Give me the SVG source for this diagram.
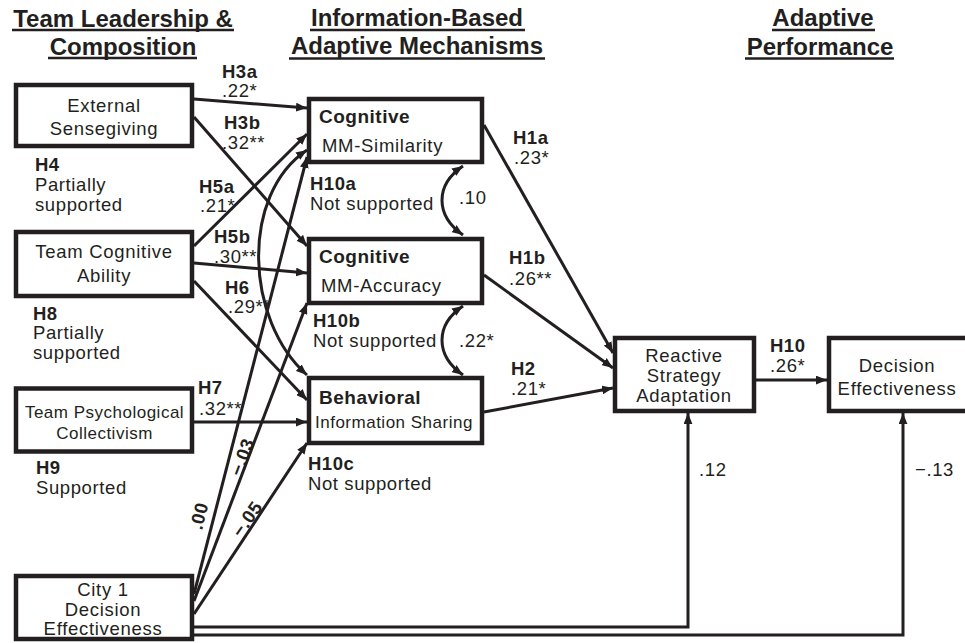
<svg xmlns="http://www.w3.org/2000/svg" width="965" height="643" viewBox="0 0 965 643">
<defs>
<style>
text{font-family:"Liberation Sans",Arial,sans-serif;fill:#231f20}
.hd{font-size:24px;font-weight:bold;text-anchor:middle}
.nt{font-size:18.5px;letter-spacing:0.7px;text-anchor:middle}
.ns{font-size:17px;letter-spacing:0.5px;text-anchor:middle}
.mb{font-size:19px;letter-spacing:0.5px;font-weight:bold}
.mr{font-size:18.5px;letter-spacing:0.7px}
.ms{font-size:17px;letter-spacing:0.5px}
.lb{font-size:18.5px;letter-spacing:0.5px;font-weight:bold}
.lr{font-size:18.5px;letter-spacing:0.6px}
.box{fill:#fff;stroke:#231f20;stroke-width:4.5}
.ul{stroke:#231f20;stroke-width:2.6}
.c{fill:none;stroke:#231f20;stroke-width:3}
.a{marker-end:url(#ah)}
.aa{marker-start:url(#ah);marker-end:url(#ah)}
</style>
<marker id="ah" viewBox="0 0 10 8" refX="10" refY="4" markerWidth="11" markerHeight="9" markerUnits="userSpaceOnUse" orient="auto-start-reverse">
<path d="M0,0 L10,4 L0,8 z" fill="#231f20"/>
</marker>
</defs>

<g id="headers">
<text class="hd" x="123" y="27">Team Leadership &amp;</text>
<line class="ul" x1="12" y1="30" x2="234" y2="30"/>
<text class="hd" x="123" y="55">Composition</text>
<line class="ul" x1="48" y1="58" x2="197" y2="58"/>
<text class="hd" x="417" y="26">Information-Based</text>
<line class="ul" x1="310" y1="30" x2="525" y2="30"/>
<text class="hd" x="417" y="54">Adaptive Mechanisms</text>
<line class="ul" x1="289" y1="58.5" x2="545" y2="58.5"/>
<text class="hd" x="823" y="26">Adaptive</text>
<line class="ul" x1="772" y1="30" x2="875" y2="30"/>
<text class="hd" x="820" y="55">Performance</text>
<line class="ul" x1="745" y1="58.5" x2="894" y2="58.5"/>
</g>

<g id="connectors">
<line class="c a" x1="194" y1="99" x2="307" y2="108"/>
<line class="c a" x1="194" y1="117" x2="307" y2="246"/>
<line class="c a" x1="194" y1="246" x2="307" y2="134"/>
<line class="c a" x1="194" y1="263" x2="307" y2="273"/>
<line class="c a" x1="194" y1="281" x2="307" y2="400"/>
<line class="c a" x1="194" y1="422" x2="307" y2="422"/>
<line class="c a" x1="194" y1="594" x2="307" y2="157"/>
<line class="c a" x1="194" y1="601" x2="307" y2="303"/>
<line class="c a" x1="194" y1="614" x2="307" y2="443"/>
<line class="c a" x1="484" y1="125" x2="613" y2="353"/>
<line class="c a" x1="484" y1="275" x2="613" y2="368"/>
<line class="c a" x1="484" y1="412" x2="613" y2="388"/>
<line class="c a" x1="756" y1="380" x2="827" y2="380"/>
<polyline class="c a" points="194,627 688,627 688,413"/>
<polyline class="c a" points="194,635 903,635 903,413"/>
<path class="c aa" d="M463,166 C435,185 435,215 463,235"/>
<path class="c aa" d="M463,306 C435,325 435,355 463,375"/>
<path class="c aa" d="M307,150 C240,195 245,320 307,375"/>
</g>

<g id="edge-labels">
<text class="lb" x="222" y="78">H3a</text>
<text class="lr" x="222" y="97">.22*</text>
<text class="lb" x="224" y="129">H3b</text>
<text class="lr" x="222" y="149">.32**</text>
<text class="lb" x="199" y="193">H5a</text>
<text class="lr" x="200" y="212">.21*</text>
<text class="lb" x="214" y="243">H5b</text>
<text class="lr" x="214" y="263">.30**</text>
<text class="lb" x="225" y="294">H6</text>
<text class="lr" x="228" y="313">.29**</text>
<text class="lb" x="198" y="394">H7</text>
<text class="lr" x="199" y="415">.32**</text>
<text class="lb" x="513" y="144">H1a</text>
<text class="lr" x="514" y="164">.23*</text>
<text class="lb" x="509" y="264">H1b</text>
<text class="lr" x="509" y="285">.26**</text>
<text class="lb" x="511" y="375">H2</text>
<text class="lr" x="511" y="395">.21*</text>
<text class="lb" x="770" y="352">H10</text>
<text class="lr" x="770" y="372">.26*</text>
<text class="lr" x="459" y="204">.10</text>
<text class="lr" x="459" y="347">.22*</text>
<text class="lr" x="699" y="476">.12</text>
<text class="lr" x="915" y="476">−.13</text>
<text class="lb" text-anchor="middle" dy="0.35em" transform="translate(199,516) rotate(-76)">.00</text>
<text class="lb" text-anchor="middle" dy="0.35em" transform="translate(242,457) rotate(-69)">−.03</text>
<text class="lb" text-anchor="middle" dy="0.35em" transform="translate(247,519) rotate(-55)">−.05</text>
</g>

<g id="notes">
<text class="lb" x="35" y="171">H4</text>
<text class="lr" x="35" y="191">Partially</text>
<text class="lr" x="35" y="211">supported</text>
<text class="lb" x="33" y="320">H8</text>
<text class="lr" x="33" y="339">Partially</text>
<text class="lr" x="33" y="359">supported</text>
<text class="lb" x="36" y="474">H9</text>
<text class="lr" x="36" y="494">Supported</text>
<text class="lb" x="310" y="190">H10a</text>
<text class="lr" x="310" y="210">Not supported</text>
<text class="lb" x="313" y="327">H10b</text>
<text class="lr" x="313" y="347">Not supported</text>
<text class="lb" x="308" y="470">H10c</text>
<text class="lr" x="308" y="490">Not supported</text>
</g>

<g id="external-sensegiving">
<rect class="box" x="16" y="85" width="176" height="61"/>
<text class="nt" x="104" y="112">External</text>
<text class="nt" x="104" y="135">Sensegiving</text>
</g>
<g id="team-cognitive-ability">
<rect class="box" x="16" y="232" width="176" height="64"/>
<text class="nt" x="104" y="258">Team Cognitive</text>
<text class="nt" x="104" y="282">Ability</text>
</g>
<g id="team-psychological-collectivism">
<rect class="box" x="16" y="388.5" width="176" height="63"/>
<text class="ns" x="104.5" y="418">Team Psychological</text>
<text class="ns" x="104.5" y="439">Collectivism</text>
</g>
<g id="city1-decision-effectiveness">
<rect class="box" x="16" y="576" width="176" height="63"/>
<text class="nt" x="103" y="596">City 1</text>
<text class="nt" x="103" y="616">Decision</text>
<text class="nt" x="103" y="635">Effectiveness</text>
</g>
<g id="mm-similarity">
<rect class="box" x="309" y="99" width="173" height="63"/>
<text class="mb" x="319" y="123">Cognitive</text>
<text class="mr" x="322" y="152">MM-Similarity</text>
</g>
<g id="mm-accuracy">
<rect class="box" x="309" y="239" width="173" height="64"/>
<text class="mb" x="319" y="263">Cognitive</text>
<text class="mr" x="321" y="292">MM-Accuracy</text>
</g>
<g id="information-sharing">
<rect class="box" x="309" y="378" width="173" height="65"/>
<text class="mb" x="319" y="404">Behavioral</text>
<text class="ms" x="315" y="428">Information Sharing</text>
</g>
<g id="reactive-strategy-adaptation">
<rect class="box" x="615" y="338" width="139" height="73"/>
<text class="nt" x="684" y="362">Reactive</text>
<text class="nt" x="684" y="382">Strategy</text>
<text class="nt" x="684" y="402">Adaptation</text>
</g>
<g id="decision-effectiveness">
<rect class="box" x="829" y="338" width="140" height="73"/>
<text class="nt" x="897" y="372">Decision</text>
<text class="nt" x="897" y="395">Effectiveness</text>
</g>
</svg>
